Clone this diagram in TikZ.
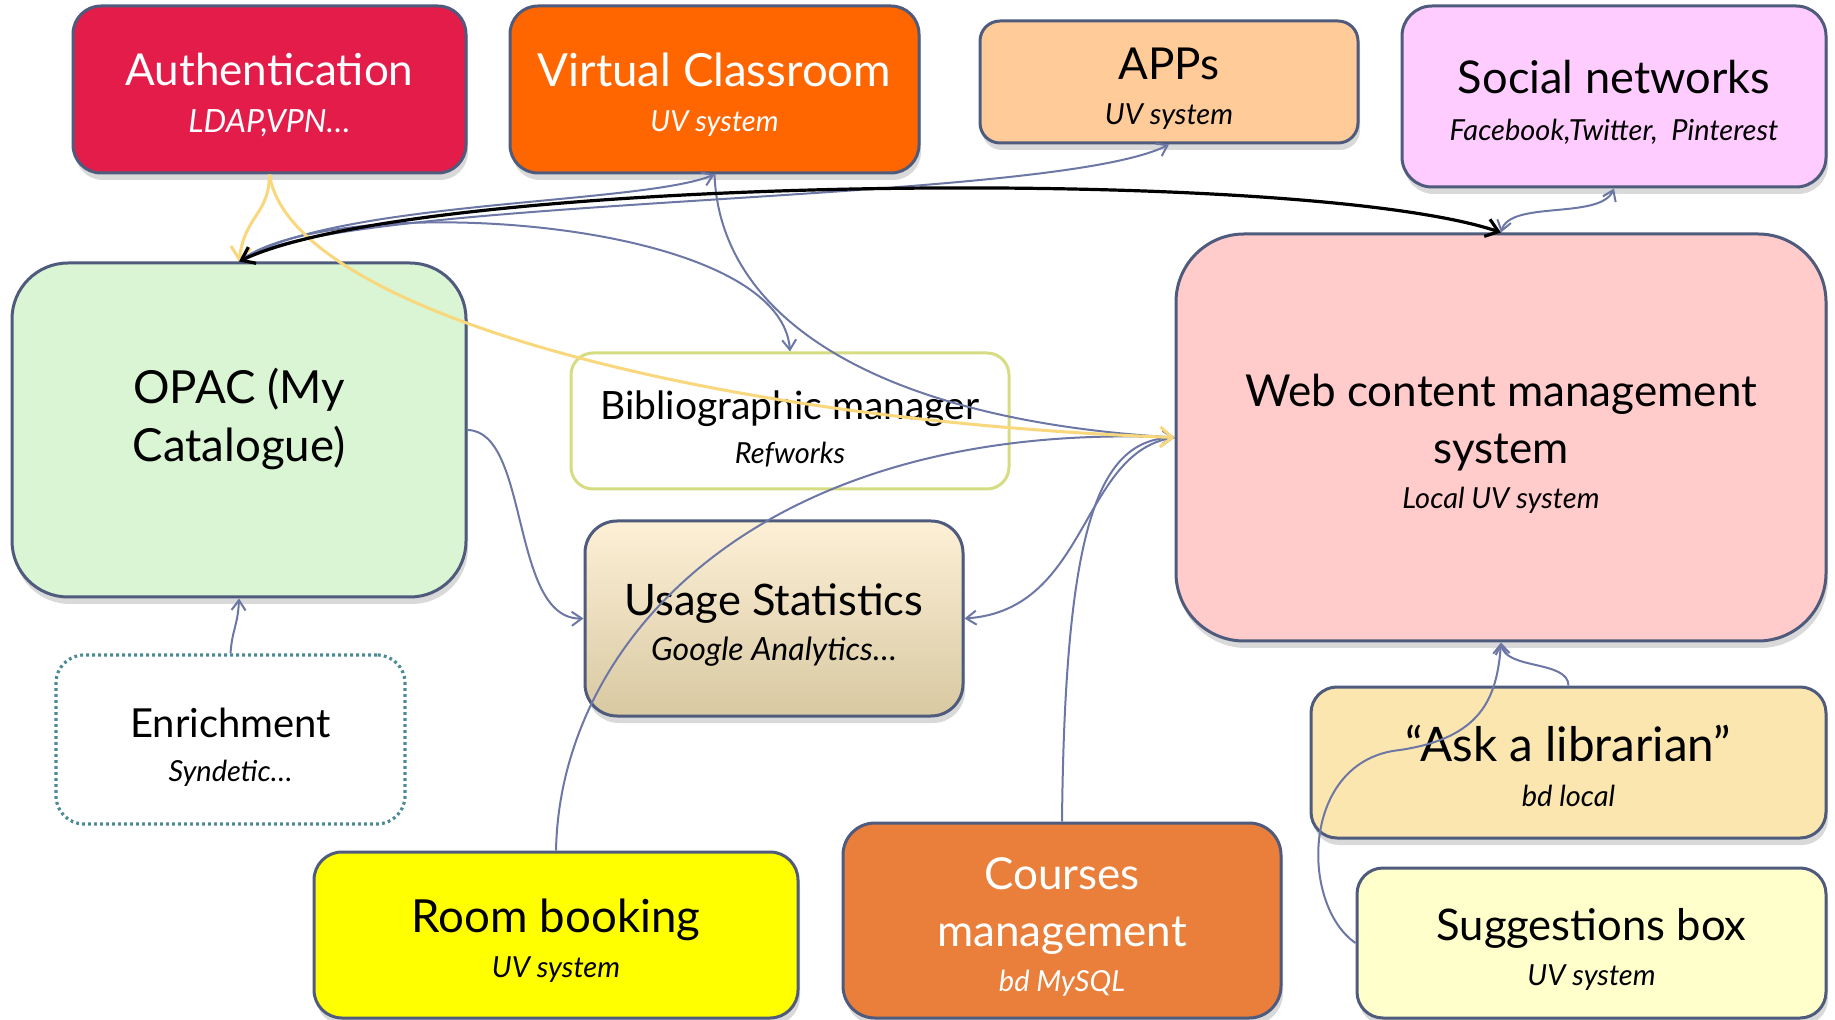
\documentclass[tikz,border=0pt]{standalone}
\usepackage{fontspec}
\setmainfont{Lato}
\usetikzlibrary{arrows.meta,shadows}

\definecolor{boxline}{HTML}{4F5B7C}
\definecolor{authred}{HTML}{E31C4A}
\definecolor{vcorange}{HTML}{FF6600}
\definecolor{appspeach}{HTML}{FFCB99}
\definecolor{socialpink}{HTML}{FFCCFF}
\definecolor{opacgreen}{HTML}{DAF5D3}
\definecolor{biblioline}{HTML}{D5DC82}
\definecolor{usagetop}{HTML}{FDF0D6}
\definecolor{usagebottom}{HTML}{D8C9A2}
\definecolor{webpink}{HTML}{FFCBCB}
\definecolor{enrichline}{HTML}{4E8A95}
\definecolor{roomyellow}{HTML}{FFFF00}
\definecolor{coursesorange}{HTML}{E97F3B}
\definecolor{askbeige}{HTML}{FBE6AF}
\definecolor{sugglight}{HTML}{FFFFCC}
\definecolor{linkblue}{HTML}{6C77A5}
\definecolor{linkgold}{HTML}{F9D77C}

\newcommand{\subline}[1]{{\fontsize{14.5}{18}\selectfont\itshape #1}}
\newcommand{\padtop}{\rule{0pt}{22pt}}

\tikzset{
  box/.style={draw=boxline, line width=1.5pt, align=center, inner sep=0pt,
    font=\fontsize{22}{28.5}\selectfont,
    drop shadow={shadow xshift=1pt, shadow yshift=-3.5pt, opacity=0.3}},
  boxsize/.style n args={3}{minimum width=#1*0.5pt, minimum height=#2*0.5pt, rounded corners=#3},
  link/.style={draw=linkblue, line width=1pt, ->},
  goldlink/.style={draw=linkgold, line width=1.5pt, -{Straight Barb[length=6pt,width=10pt]}},
  mainlink/.style={draw=black, line width=1.6pt, {Straight Barb[length=6pt,width=9pt]}-{Straight Barb[length=6pt,width=9pt]}}
}

\begin{document}
\begin{tikzpicture}[x=0.5pt, y=-0.5pt, >={Straight Barb[length=5pt,width=7pt]}]
\useasboundingbox (0,0) rectangle (1835,1020);

\node[box, boxsize={393}{167}{14pt}, fill=authred, text=white] (auth) at (269.5,89.5) {\padtop Authentication\\[-5pt]{\fontsize{16}{18}\selectfont\itshape LDAP,VPN\dots}};
\node[box, boxsize={409}{167}{14pt}, fill=vcorange, text=white, font=\fontsize{22.8}{28.5}\selectfont] (vc) at (714.5,89.5) {\padtop Virtual Classroom\\[-6pt]\subline{UV system}};
\node[box, boxsize={378}{122}{10pt}, fill=appspeach] (apps) at (1169,82) {\padtop APPs\\[-6pt]\subline{UV system}};
\node[box, boxsize={424}{181}{15pt}, fill=socialpink, font=\fontsize{22.6}{28.5}\selectfont] (social) at (1614,96.5) {\padtop Social networks\\[-5pt]\subline{Facebook,Twitter,\ \ Pinterest}};
\node[box, boxsize={454}{334}{28pt}, fill=opacgreen, font=\fontsize{22.8}{29}\selectfont] (opac) at (239,430) {OPAC (My\\Catalogue)\\[-14pt]\mbox{}};
\node[draw=biblioline, line width=1.5pt, fill=white, align=center, inner sep=0pt, font=\fontsize{19.5}{26}\selectfont,
  boxsize={438}{136}{11pt}] (biblio) at (790,421) {\padtop Bibliographic manager\\[-4pt]\subline{Refworks}};
\node[box, boxsize={378}{195}{16pt}, top color=usagetop, middle color=usagetop!60!usagebottom, bottom color=usagebottom,
  font=\fontsize{21.7}{28.5}\selectfont] (usage) at (774,618.5) {\padtop Usage Statistics\\[-6pt]{\fontsize{16}{18}\selectfont\itshape Google Analytics\dots}};
\node[box, boxsize={650}{407}{34pt}, fill=webpink] (web) at (1501,437.5) {\padtop Web content management\\system\\[-6pt]\subline{Local UV system}};
\node[draw=enrichline, line width=1.6pt, dash pattern=on 1.4pt off 1.6pt, fill=white, align=center, inner sep=0pt,
  font=\fontsize{20}{26}\selectfont, boxsize={349}{169}{14pt}] (enrich) at (230.5,739.5) {\padtop Enrichment\\[-4pt]\subline{Syndetic\dots}};
\node[box, boxsize={484}{166}{14pt}, fill=roomyellow, font=\fontsize{22.8}{28.5}\selectfont] (room) at (556,935) {\padtop Room booking\\[-6pt]\subline{UV system}};
\node[box, boxsize={438}{195}{16pt}, fill=coursesorange, text=white] (courses) at (1062,920.5) {\padtop Courses\\management\\[-6pt]\subline{bd MySQL}};
\node[box, boxsize={515}{151}{13pt}, fill=askbeige, font=\fontsize{23.8}{28.5}\selectfont] (ask) at (1568.5,762.5) {\padtop “Ask a librarian”\\[-6pt]\subline{bd local}};
\node[box, boxsize={469}{150}{13pt}, fill=sugglight, font=\fontsize{21.8}{28.5}\selectfont] (sugg) at (1591.5,943) {\padtop Suggestions box\\[-6pt]\subline{UV system}};

\draw[link] (opac.north) .. controls (330,200) and (640,205) .. (vc.south);
\draw[link] (opac.north) .. controls (330,195) and (1050,205) .. (apps.south);
\draw[link] (opac.north) .. controls (330,190) and (780,215) .. (biblio.north);
\draw[link] (vc.south) .. controls (720,320) and (880,420) .. (web.west);
\draw[link, <->] (web.north) .. controls (1510,200) and (1600,220) .. (social.south);
\draw[link] (opac.east) .. controls (530,431) and (510,620) .. (usage.west);
\draw[link] (enrich.north) .. controls (232,630) and (238,625) .. (opac.south);
\draw[link] (web.west) .. controls (1080,450) and (1090,610) .. (usage.east);
\draw[link] (room.north) .. controls (560,640) and (760,420) .. (web.west);
\draw[link] (courses.north) .. controls (1065,520) and (1100,440) .. (web.west);
\draw[link] (ask.north) .. controls (1568,660) and (1505,670) .. (web.south);
\draw[link] (sugg.west) .. controls (1300,905) and (1300,760) .. (1400,750) .. controls (1480,738) and (1497,700) .. (web.south);
\draw[goldlink] (auth.south) .. controls (269,215) and (245,215) .. (opac.north);
\draw[goldlink] (auth.south) .. controls (290,310) and (700,420) .. (web.west);
\draw[mainlink] (opac.north) .. controls (420,175) and (1300,165) .. (web.north);
\end{tikzpicture}
\end{document}
